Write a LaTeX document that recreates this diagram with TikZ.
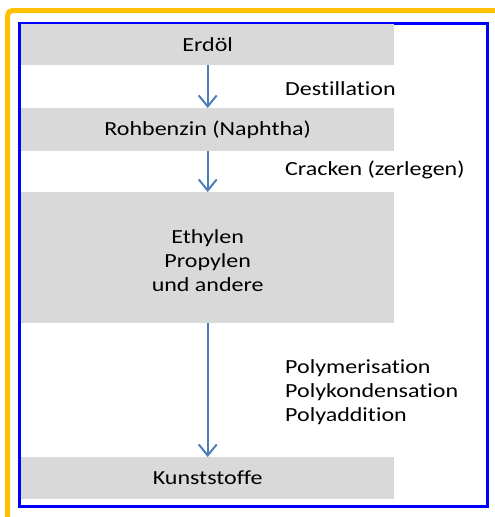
\documentclass[tikz,border=0pt]{standalone}
\usepackage{fontspec}
\setmainfont{Carlito}[FakeStretch=1.2,Ligatures=NoCommon]
\usetikzlibrary{arrows.meta}
\definecolor{boxgray}{HTML}{D9D9D9}
\definecolor{arrowblue}{HTML}{4A7EBB}
\definecolor{frameyellow}{HTML}{FFC000}
\definecolor{frameblue}{HTML}{0000FF}
\begin{document}
\begin{tikzpicture}[x=1pt,y=-1pt,
  font=\fontsize{20}{24}\selectfont,
  box/.style={fill=boxgray, draw=none, minimum width=373pt, inner sep=0pt, anchor=north west, align=center, text=black},
  lab/.style={anchor=west, inner sep=0pt, align=left, text=black},
  arr/.style={draw=arrowblue, line width=2pt, -{Straight Barb[length=11pt,width=18pt]}}]
\useasboundingbox (0,0) rectangle (495,517);
\clip (0,0) rectangle (495,517);
\draw[frameyellow, line width=5pt, rounded corners=5pt] (7.5,540) -- (7.5,10.5) -- (530,10.5);
\draw[frameblue, line width=3pt] (19.5,23.5) rectangle (487,506.5);
\node[box, minimum height=41pt] (b1) at (21,24) {Erdöl};
\node[box, minimum height=43pt] (b2) at (21,108) {Rohbenzin (Naphtha)};
\node[box, minimum height=131pt] (b3) at (21,192) {};
\node[align=center, inner sep=0pt, text=black] (t3) at ([yshift=-2.5pt]b3.center) {Ethylen\\Propylen\\und andere};
\node[box, minimum height=42pt] (b4) at (21,457) {Kunststoffe};
\draw[arr] (b1.south) -- (b2.north);
\draw[arr] (b2.south) -- (b3.north);
\draw[arr] (b3.south) -- (b4.north);
\node[lab] (l1) at (285,89) {Destillation};
\node[lab] (l2) at (285,170) {Cracken (zerlegen)};
\node[lab] (l3) at (285,392) {Polymerisation\\Polykondensation\\Polyaddition};
\end{tikzpicture}
\end{document}
